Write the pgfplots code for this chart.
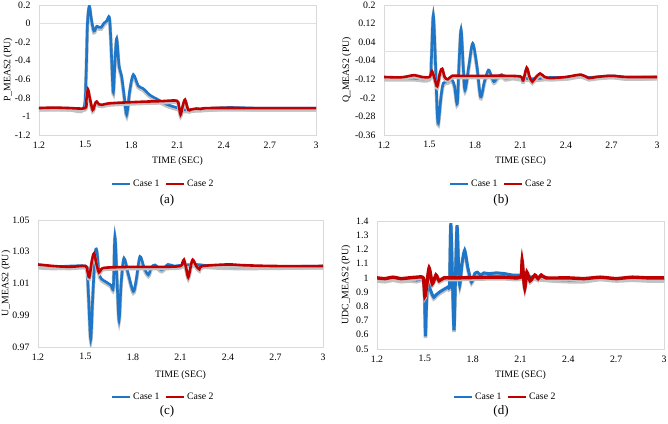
\documentclass[border=0pt]{standalone}
\usepackage{pgfplots}
\pgfplotsset{compat=1.18}
\usepackage{fontspec}
\setmainfont{Liberation Serif}
\definecolor{cA}{RGB}{30,118,200}
\definecolor{cB}{RGB}{192,0,0}
\newcommand{\fs}{\fontsize{9.8bp}{11bp}\selectfont}
\newcommand{\lfs}{\fontsize{13bp}{15bp}\selectfont}
\pgfplotsset{
  panel/.style={
    scale only axis,
    anchor=north west,
    xmin=1.2, xmax=3,
    xtick={1.2,1.5,1.8,2.1,2.4,2.7,3},
    xticklabels={1.2,1.5,1.8,2.1,2.4,2.7,3},
    tick style={draw=none},
    axis line style={draw=black!15},
    /pgf/number format/assume math mode=true,
    tick label style={font=\fs},
    xticklabel style={yshift=-3bp},
    yticklabel style={xshift=-5bp},
    label style={font=\fs},
    xlabel={TIME (SEC)},
    legend style={draw=none, fill=none, font=\fs, legend columns=2, anchor=center,
      /tikz/every even column/.append style={column sep=3bp}},
    legend image code/.code={\draw[#1] (0bp,0bp) -- (18bp,0bp);},
    legend cell align=left,
  },
  c1/.style={color=cA, line width=2.6bp, smooth, tension=0.5, forget plot,
     preaction={draw=black!24, line width=3.6bp, transform canvas={yshift=-1.7bp}}},
  c2/.style={color=cB, line width=2.6bp, smooth, tension=0.5, forget plot,
     preaction={draw=black!24, line width=3.6bp, transform canvas={yshift=-1.7bp}}},
  leg/.style={\addlegendimage{draw=cA, line width=2.6bp}},
}
\newcommand{\mylegend}{%
  \addlegendimage{draw=cA, line width=2.6bp}\addlegendentry{Case 1}%
  \addlegendimage{draw=cB, line width=2.6bp}\addlegendentry{Case 2}}
\begin{document}
\begin{tikzpicture}
\useasboundingbox (0bp,0bp) rectangle (668bp,-424bp);
% ---------------- (a)
\begin{axis}[panel, at={(39bp,-5bp)}, width=277bp, height=130bp,
  ymin=-1.2, ymax=0.2, ytick={-1.2,-1,-0.8,-0.6,-0.4,-0.2,0,0.2},
  yticklabels={-1.2,-1,-0.8,-0.6,-0.4,-0.2,0,0.2},
  extra y ticks={0}, extra y tick labels={}, extra y tick style={grid=major, major grid style={draw=black!12}},
  ylabel={P\_MEAS2 (PU)},
  ylabel style={at={(axis description cs:-0.112,0.5)}, anchor=center, rotate=0},
  xlabel style={at={(axis description cs:0.5,-0.2)}, anchor=center},
  legend style={at={(0.448,-0.377)}}]
\mylegend
\addplot[c1] coordinates {
(1.2,-0.91)(1.3,-0.91)(1.4,-0.91)(1.49,-0.91)(1.505,-0.6)(1.515,0.0)(1.527,0.19)(1.54,0.05)
(1.557,-0.08)(1.575,-0.03)(1.59,-0.04)(1.605,-0.04)(1.62,0.0)(1.64,0.03)(1.657,0.07)
(1.666,-0.15)(1.675,-0.5)(1.683,-0.74)(1.694,-0.4)(1.705,-0.16)(1.72,-0.45)(1.737,-0.57)
(1.755,-0.8)(1.77,-0.98)(1.79,-0.72)(1.813,-0.55)(1.845,-0.67)(1.877,-0.70)(1.921,-0.77)
(1.975,-0.82)(2.03,-0.87)(2.105,-0.91)(2.149,-0.93)(2.19,-0.925)(2.24,-0.92)(2.3,-0.915)
(2.4,-0.905)(2.5,-0.905)(2.6,-0.91)(2.8,-0.91)(3.0,-0.91)};
\addplot[c2] coordinates {
(1.2,-0.91)(1.3,-0.905)(1.4,-0.91)(1.5,-0.91)(1.508,-0.82)(1.518,-0.71)(1.53,-0.8)
(1.549,-0.93)(1.565,-0.86)(1.575,-0.84)(1.59,-0.87)(1.61,-0.875)(1.65,-0.86)(1.75,-0.85)
(1.9,-0.84)(2.0,-0.835)(2.095,-0.83)(2.108,-0.88)(2.12,-0.98)(2.132,-0.9)(2.149,-0.82)
(2.17,-0.93)(2.19,-0.925)(2.224,-0.915)(2.25,-0.92)(2.3,-0.91)(2.6,-0.91)(3.0,-0.91)};
\end{axis}
% ---------------- (b)
\begin{axis}[panel, at={(384bp,-5bp)}, width=273bp, height=130bp,
  ymin=-0.36, ymax=0.2, ytick={-0.36,-0.28,-0.2,-0.12,-0.04,0.04,0.12,0.2},
  yticklabels={-0.36,-0.28,-0.2,-0.12,-0.04,0.04,0.12,0.2},
  extra y ticks={0}, extra y tick labels={}, extra y tick style={grid=major, major grid style={draw=black!12}},
  ylabel={Q\_MEAS2 (PU)},
  ylabel style={at={(axis description cs:-0.136,0.5)}, anchor=center, rotate=0},
  xlabel style={at={(axis description cs:0.5,-0.2)}, anchor=center},
  legend style={at={(0.429,-0.377)}}]
\mylegend
\addplot[c1] coordinates {
(1.2,-0.115)(1.3,-0.115)(1.4,-0.115)(1.5,-0.115)(1.512,-0.04)(1.525,0.157)(1.54,-0.06)
(1.55,-0.25)(1.558,-0.31)(1.575,-0.2)(1.591,-0.137)(1.62,-0.13)(1.646,-0.12)(1.665,-0.15)
(1.683,-0.224)(1.695,-0.05)(1.708,0.095)(1.722,-0.06)(1.734,-0.166)(1.76,-0.06)(1.785,0.035)
(1.812,-0.06)(1.837,-0.195)(1.862,-0.13)(1.888,-0.08)(1.905,-0.1)(1.925,-0.13)(1.95,-0.11)
(1.976,-0.1)(2.0,-0.115)(2.05,-0.11)(2.1,-0.115)(2.2,-0.117)(2.3,-0.112)(2.4,-0.112)
(2.5,-0.102)(2.55,-0.112)(2.7,-0.105)(2.8,-0.112)(3.0,-0.11)};
\addplot[c2] coordinates {
(1.2,-0.11)(1.3,-0.112)(1.35,-0.108)(1.4,-0.102)(1.45,-0.11)(1.5,-0.11)(1.516,-0.085)
(1.535,-0.12)(1.551,-0.15)(1.57,-0.09)(1.584,-0.075)(1.6,-0.11)(1.62,-0.12)(1.65,-0.105)
(1.7,-0.105)(1.9,-0.105)(2.0,-0.105)(2.1,-0.108)(2.118,-0.125)(2.141,-0.07)(2.16,-0.11)
(2.178,-0.13)(2.2,-0.112)(2.229,-0.095)(2.26,-0.11)(2.3,-0.115)(2.4,-0.11)(2.5,-0.1)
(2.55,-0.115)(2.6,-0.11)(2.7,-0.105)(2.8,-0.11)(3.0,-0.11)};
\end{axis}
% ---------------- (c)
\begin{axis}[panel, at={(38bp,-220bp)}, width=285bp, height=127bp,
  ymin=0.97, ymax=1.05, ytick={0.97,0.99,1.01,1.03,1.05},
  yticklabels={0.97,0.99,1.01,1.03,1.05},
  ylabel={U\_MEAS2 (PU)},
  ylabel style={at={(axis description cs:-0.112,0.5)}, anchor=center, rotate=0},
  xlabel style={at={(axis description cs:0.5,-0.22)}, anchor=center},
  legend style={at={(0.439,-0.394)}}]
\mylegend
\addplot[c1] coordinates {
(1.2,1.021)(1.3,1.0205)(1.4,1.021)(1.5,1.021)(1.511,1.018)(1.52,1.0)(1.533,0.975)(1.545,1.0)
(1.56,1.028)(1.571,1.031)(1.585,1.017)(1.6,1.013)(1.63,1.011)(1.66,1.009)(1.676,1.008)
(1.686,1.0395)(1.7,1.01)(1.712,0.987)(1.725,1.01)(1.743,1.026)(1.77,1.016)(1.802,1.005)
(1.82,1.012)(1.844,1.027)(1.87,1.02)(1.897,1.0155)(1.915,1.02)(1.939,1.0217)(1.981,1.0185)
(2.02,1.022)(2.06,1.021)(2.1,1.0215)(2.2,1.022)(2.3,1.021)(2.5,1.0205)(3.0,1.021)};
\addplot[c2] coordinates {
(1.2,1.022)(1.3,1.021)(1.4,1.0205)(1.5,1.021)(1.512,1.018)(1.524,1.014)(1.54,1.024)
(1.554,1.029)(1.57,1.022)(1.585,1.017)(1.6,1.019)(1.63,1.02)(1.8,1.0205)(2.0,1.0205)
(2.1,1.021)(2.112,1.023)(2.122,1.025)(2.135,1.02)(2.149,1.014)(2.163,1.02)(2.177,1.025)
(2.2,1.021)(2.219,1.019)(2.24,1.021)(2.4,1.022)(2.5,1.0215)(2.7,1.021)(3.0,1.021)};
\end{axis}
% ---------------- (d)
\begin{axis}[panel, at={(377bp,-221bp)}, width=287bp, height=128bp,
  ymin=0.5, ymax=1.4, ytick={0.5,0.6,0.7,0.8,0.9,1,1.1,1.2,1.3,1.4},
  yticklabels={0.5,0.6,0.7,0.8,0.9,1,1.1,1.2,1.3,1.4},
  ylabel={UDC\_MEAS2 (PU)},
  ylabel style={at={(axis description cs:-0.108,0.5)}, anchor=center, rotate=0},
  xlabel style={at={(axis description cs:0.5,-0.203)}, anchor=center},
  legend style={at={(0.446,-0.375)}}]
\mylegend
\addplot[c1, line width=3bp, tension=0.35] coordinates {
(1.2,0.99)(1.25,0.985)(1.3,0.995)(1.35,0.985)(1.4,0.99)(1.45,0.985)(1.495,0.99)(1.5,0.8)
(1.504,0.59)(1.508,0.75)(1.515,0.93)(1.525,0.95)(1.54,0.9)(1.556,0.864)(1.57,0.88)
(1.594,0.902)(1.62,0.92)(1.646,0.937)(1.655,0.95)(1.663,1.384)(1.673,1.0)(1.683,0.632)
(1.692,1.0)(1.702,1.37)(1.711,1.1)(1.719,0.95)(1.733,1.1)(1.75,1.195)(1.77,1.07)
(1.793,0.972)(1.813,1.03)(1.83,1.04)(1.85,1.02)(1.87,1.035)(1.9,1.03)(1.95,1.035)
(2.0,1.03)(2.05,1.02)(2.096,1.02)(2.15,1.01)(2.2,1.0)(2.3,0.99)(2.4,0.985)(2.5,0.985)
(2.6,1.0)(2.7,0.99)(2.8,0.995)(2.9,0.99)(3.0,0.99)};
\addplot[c2, line width=3.4bp, tension=0.35] coordinates {
(1.2,1.0)(1.25,0.995)(1.3,1.005)(1.35,0.995)(1.4,1.0)(1.45,1.005)(1.49,1.0)(1.5,0.87)
(1.51,0.93)(1.527,1.07)(1.547,0.96)(1.57,1.02)(1.59,0.98)(1.62,1.0)(1.7,1.0)(1.9,1.005)
(2.0,1.005)(2.1,1.005)(2.11,1.12)(2.118,1.02)(2.127,0.93)(2.14,1.04)(2.16,0.98)(2.19,1.02)
(2.21,0.995)(2.23,1.02)(2.26,1.0)(2.4,1.0)(2.5,0.995)(2.6,1.005)(2.7,0.995)(2.8,1.005)
(2.9,1.0)(3.0,1.0)};
\end{axis}
\node[font=\lfs] at (167bp,-200bp) {(a)};
\node[font=\lfs] at (501bp,-200bp) {(b)};
\node[font=\lfs] at (167bp,-411bp) {(c)};
\node[font=\lfs] at (501bp,-411bp) {(d)};
\end{tikzpicture}
\end{document}
